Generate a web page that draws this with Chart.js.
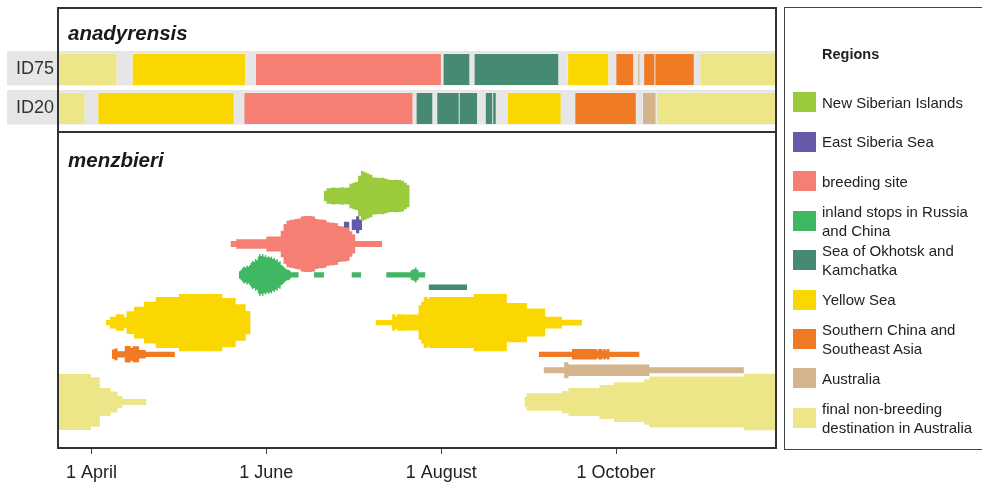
<!DOCTYPE html>
<html>
<head>
<meta charset="utf-8">
<script src="https://cdn.jsdelivr.net/npm/chart.js@4.4.1/dist/chart.umd.min.js"></script>
<style>
  html, body { margin: 0; padding: 0; background: #fff; }
  body { width: 982px; height: 485px; position: relative; overflow: hidden;
         font-family: 'Liberation Sans', Arial, sans-serif; color: #222; }
  #topWrap { position: absolute; left: 0; top: 50px; width: 776px; height: 78px; }
  #bottomWrap { position: absolute; left: 58px; top: 134px; width: 718px; height: 351px; }
  .frame { position: absolute; border: 2px solid #333; box-sizing: border-box; pointer-events: none; }
  .taxon { position: absolute; left: 68px; font-weight: bold; font-style: italic;
           font-size: 20.5px; line-height: 20px; color: #1a1a1a; white-space: nowrap; }
  #legendBox { position: absolute; left: 784px; top: 7px; width: 220px; height: 443px;
               border: 1.5px solid #444; box-sizing: border-box; }
  #legendTitle { position: absolute; left: 822px; top: 45px; font-weight: bold; font-size: 14.5px;
                 line-height: 18px; color: #222; }
  .sw { position: absolute; left: 793px; width: 23px; height: 20px; }
  .lab { position: absolute; left: 822px; font-size: 15px; line-height: 19px; color: #222; white-space: nowrap; }
</style>
</head>
<body>
<div id="topWrap"><canvas id="topChart"></canvas></div>
<div id="bottomWrap"><canvas id="bottomChart"></canvas></div>
<div class="frame" style="left:57px;top:7px;width:720px;height:126px;"></div>
<div class="frame" style="left:57px;top:131px;width:720px;height:318px;"></div>
<div class="taxon" style="top:23px;">anadyrensis</div>
<div class="taxon" style="top:150px;">menzbieri</div>
<div id="legendBox"></div>
<div id="legendTitle">Regions</div>
<div id="legendItems"></div>
<script>
// ---- time axis (day of year) ----
const dayMin = 79.6;
const dayMax = 329.8;
const tickDays = [91, 152, 213, 274];
const tickLabels = ['1 April', '1 June', '1 August', '1 October'];

// ---- regions ----
const regionKeys = ['siberia', 'eastSiberia', 'breeding', 'inland', 'okhotsk',
                    'yellowSea', 'southChina', 'australia', 'finalAus'];
const regionNames = [
  ['New Siberian Islands'],
  ['East Siberia Sea'],
  ['breeding site'],
  ['inland stops in Russia', 'and China'],
  ['Sea of Okhotsk and', 'Kamchatka'],
  ['Yellow Sea'],
  ['Southern China and', 'Southeast Asia'],
  ['Australia'],
  ['final non-breeding', 'destination in Australia']
];
const regionColors = ['#9BCA3C', '#6659A9', '#F47F72', '#40B763', '#478A72',
                      '#FBD701', '#EF7A23', '#D4B48C', '#ECE689'];

// ---- anadyrensis individual tracks: [from day, to day] and region ----
const birdIds = ['ID75', 'ID20'];
const id75From   = [79, 105.5, 148.4, 213.8, 224.6, 257.2, 274.0, 281.6, 283.7, 287.6, 303.3];
const id75To     = [100.1, 145.0, 213.2, 223.1, 254.1, 271.5, 280.2, 282.4, 287.6, 301.3, 331];
const id75Region = ['finalAus', 'yellowSea', 'breeding', 'okhotsk', 'okhotsk', 'yellowSea',
                    'southChina', 'australia', 'southChina', 'southChina', 'finalAus'];
const id20From   = [79, 93.5, 144.4, 204.4, 211.6, 219.4, 228.5, 231.1, 236.2, 259.7, 283.3, 288.2];
const id20To     = [89.0, 141.0, 203.3, 210.2, 219.4, 225.8, 231.1, 232.3, 254.9, 281.1, 288.0, 331];
const id20Region = ['finalAus', 'yellowSea', 'breeding', 'okhotsk', 'okhotsk', 'okhotsk',
                    'okhotsk', 'okhotsk', 'yellowSea', 'southChina', 'australia', 'finalAus'];

// ---- menzbieri: number of birds per region through the year ----
// each entry [day, birds] marks where the count changes; 0 = no birds there
const siberia = [[172, 2.0], [173, 2.9], [174, 3.0], [175, 3.2], [176, 3.0], [177, 3.1], [178, 3.3],
  [179, 3.1], [180, 3.2], [181, 4.6], [182, 5.0], [183, 5.3], [184, 7.6], [185, 9.4], [186, 9.0],
  [187, 8.5], [188, 8.0], [189, 7.0], [190, 6.9], [191, 6.8], [192, 6.9], [193, 6.6], [194, 6.2],
  [195, 6.0], [197, 6.1], [198, 6.0], [199, 5.8], [200, 5.0], [201, 4.2], [202, 0]];
const eastSiberia = [[179, 1.1], [181, 0], [181.7, 2.0], [183.3, 3.2], [184.4, 2.0], [185.4, 0]];
const breeding = [[139.5, 1.1], [141.5, 1.8], [152, 2.8], [157, 5.0], [158, 7.5], [159, 8.8],
  [160, 9.0], [161, 9.2], [162, 9.4], [163, 9.6], [164, 10.4], [165, 10.6], [168, 10.4], [169, 9.4],
  [170, 9.2], [172, 9.0], [173, 8.2], [174, 8.0], [176, 7.8], [177, 6.8], [178, 6.6], [180, 6.4],
  [181, 4.8], [182, 3.6], [183, 1.1], [192.4, 0]];
const inland = [[142.4, 1.4], [143, 2.0], [143.5, 2.6], [144, 3.2], [144.5, 2.8], [145, 3.6],
  [145.5, 3.1], [146, 3.8], [146.5, 4.6], [147, 5.4], [147.5, 4.9], [148, 6.0], [148.5, 5.6],
  [149, 7.0], [149.5, 7.9], [150, 7.2], [150.5, 7.8], [151, 6.9], [151.5, 7.4], [152, 6.6],
  [152.5, 7.1], [153, 6.5], [153.5, 6.9], [154, 6.0], [154.5, 6.4], [155, 5.6], [155.5, 5.9],
  [156, 4.8], [156.5, 5.2], [157, 3.8], [157.5, 3.4], [158, 2.8], [158.5, 2.4], [159, 2.0],
  [160, 1.6], [160.5, 1.0], [163.3, 0],
  [168.6, 1.0], [172.1, 0], [181.7, 1.0], [185.1, 0],
  [193.8, 1.0], [202.3, 1.8], [203, 2.2], [203.8, 2.8], [204.4, 2.0], [205.1, 1.0], [207.5, 0]];
const okhotsk = [[208.6, 1.0], [222.0, 0]];
const yellowSea = [[96, 1.0], [97.5, 2.2], [99.5, 3.1], [102.4, 2.0], [103.2, 4.3], [105.8, 6.0],
  [109.3, 7.9], [113.4, 9.6], [121.5, 10.8], [136.6, 9.3], [141.3, 6.9], [144.8, 4.4], [146.5, 0],
  [190.1, 1.0], [195.9, 3.1], [197, 2.4], [197.6, 3.1], [199.9, 3.0], [205.1, 6.5], [206, 7.9],
  [206.9, 9.6], [208.3, 9.0], [208.8, 9.6], [224.3, 10.8], [235.9, 7.4], [242.9, 5.3],
  [249.3, 2.2], [255.1, 1.1], [262.1, 0]];
const southChina = [[98.1, 1.8], [99, 2.2], [100.1, 1.2], [102.6, 3.1], [104.7, 2.4], [105.3, 3.0],
  [107.6, 1.6], [109.9, 1.0], [120.1, 0],
  [247, 1.0], [258.6, 2.0], [267.3, 1.5], [267.8, 2.0], [269.2, 1.5], [269.6, 2.0], [270.4, 1.5],
  [270.8, 2.0], [271.7, 1.0], [282.2, 0]];
const australia = [[248.7, 1.1], [255.9, 3.0], [257.4, 2.2], [285.6, 1.1], [318.6, 0]];
const finalAus = [[79, 10.6], [90.8, 9.3], [93.9, 5.3], [97.7, 4.0], [100.1, 2.3], [101.8, 1.1], [110.2, 0],
  [242, 2.0], [242.8, 3.3], [255.1, 4.2], [257.4, 5.3], [268.2, 6.4], [273.3, 7.5], [283.8, 8.6],
  [285.6, 9.6], [318.6, 10.7], [331, 0]];

const shapes = { siberia, eastSiberia, breeding, inland, okhotsk, yellowSea, southChina, australia, finalAus };

// ---- layout: vertical lane of each region in the lower panel (bird-width units, top = 0) ----
const laneSpan = 59.06;
const lanes = { siberia: 11.70, eastSiberia: 17.11, breeding: 20.75, inland: 26.60, okhotsk: 28.92,
                yellowSea: 35.58, southChina: 41.57, australia: 44.58, finalAus: 50.57 };

const colorOf = {};
regionKeys.forEach((k, i) => { colorOf[k] = regionColors[i]; });

const fontFamily = "'Liberation Sans', Arial, sans-serif";
Chart.defaults.font.family = fontFamily;

// ---------- upper panel: individual tracks ----------
function trackDataset(id, from, to, regions) {
  return {
    data: from.map((f, i) => ({ x: [f, to[i]], y: id })),
    backgroundColor: regions.map(r => colorOf[r]),
    borderColor: 'rgba(255,255,255,0.35)',
    borderWidth: 0.8,
    borderSkipped: false,
    barThickness: 32,
    grouped: false,
    clip: 0
  };
}

// grey strip behind each bird's row, running under its label
const rowBands = {
  id: 'rowBands',
  beforeDraw(chart) {
    const { ctx, chartArea, scales } = chart;
    const y = scales.y;
    ctx.save();
    ctx.fillStyle = '#E6E6E6';
    y.ticks.forEach((t, i) => {
      const c = y.getPixelForTick(i);
      ctx.fillRect(7, c - 18.5, chartArea.right - 7, 34.5);
    });
    ctx.restore();
  }
};

new Chart(document.getElementById('topChart'), {
  type: 'bar',
  data: {
    labels: birdIds,
    datasets: [
      trackDataset('ID75', id75From, id75To, id75Region),
      trackDataset('ID20', id20From, id20To, id20Region)
    ]
  },
  options: {
    indexAxis: 'y',
    responsive: true,
    maintainAspectRatio: false,
    animation: false,
    events: [],
    layout: { padding: 0 },
    plugins: { legend: { display: false }, tooltip: { enabled: false } },
    scales: {
      x: { type: 'linear', min: dayMin, max: dayMax, display: false },
      y: {
        type: 'category',
        grid: { display: false, drawTicks: false },
        border: { display: false },
        ticks: { padding: 4, color: '#333', font: { size: 18 } },
        afterFit(scale) {
          scale.width = 58;
          scale.paddingTop = 0;
          scale.paddingBottom = 0;
        }
      }
    }
  },
  plugins: [rowBands]
});

// ---------- lower panel: birds per region ----------
const shapeDatasets = [];
regionKeys.forEach(key => {
  const steps = shapes[key];
  const lane = lanes[key];
  const color = colorOf[key];
  let run = [];
  const emit = (pts) => {
    shapeDatasets.push({
      data: pts.map(([d, b]) => ({ x: d, y: lane - b / 2 })),
      stepped: true, pointRadius: 0, borderWidth: 0, borderColor: 'rgba(0,0,0,0)',
      fill: false, clip: 0
    });
    shapeDatasets.push({
      data: pts.map(([d, b]) => ({ x: d, y: lane + b / 2 })),
      stepped: true, pointRadius: 0, borderWidth: 0, borderColor: 'rgba(0,0,0,0)',
      backgroundColor: color, fill: '-1', clip: 0
    });
  };
  steps.forEach(([d, b]) => {
    if (b > 0) {
      run.push([d, b]);
    } else if (run.length) {
      run.push([d, run[run.length - 1][1]]);
      emit(run);
      run = [];
    }
  });
});

new Chart(document.getElementById('bottomChart'), {
  type: 'line',
  data: { datasets: shapeDatasets },
  options: {
    responsive: true,
    maintainAspectRatio: false,
    animation: false,
    events: [],
    layout: { padding: 0 },
    plugins: { legend: { display: false }, tooltip: { enabled: false } },
    scales: {
      x: {
        type: 'linear', min: dayMin, max: dayMax,
        afterBuildTicks(scale) { scale.ticks = tickDays.map(v => ({ value: v })); },
        afterFit(scale) { scale.height = 38; },
        grid: { display: true, drawOnChartArea: false, drawTicks: true, tickLength: 7,
                color: '#444', lineWidth: 1 },
        border: { display: false },
        ticks: { autoSkip: false, maxRotation: 0, padding: 8, color: '#222', font: { size: 18 },
                 callback: (v, i) => tickLabels[i] }
      },
      y: { type: 'linear', reverse: true, min: 0, max: laneSpan, display: false }
    }
  }
});

// ---------- legend ----------
const legendHost = document.getElementById('legendItems');
regionKeys.forEach((key, i) => {
  const top = 92.3 + i * 39.45;
  const sw = document.createElement('div');
  sw.className = 'sw';
  sw.style.top = top + 'px';
  sw.style.background = regionColors[i];
  legendHost.appendChild(sw);
  const lines = regionNames[i];
  const lab = document.createElement('div');
  lab.className = 'lab';
  lab.style.top = (top + 10 - lines.length * 9.5) + 'px';
  lab.innerHTML = lines.join('<br>');
  legendHost.appendChild(lab);
});
</script>
</body>
</html>
